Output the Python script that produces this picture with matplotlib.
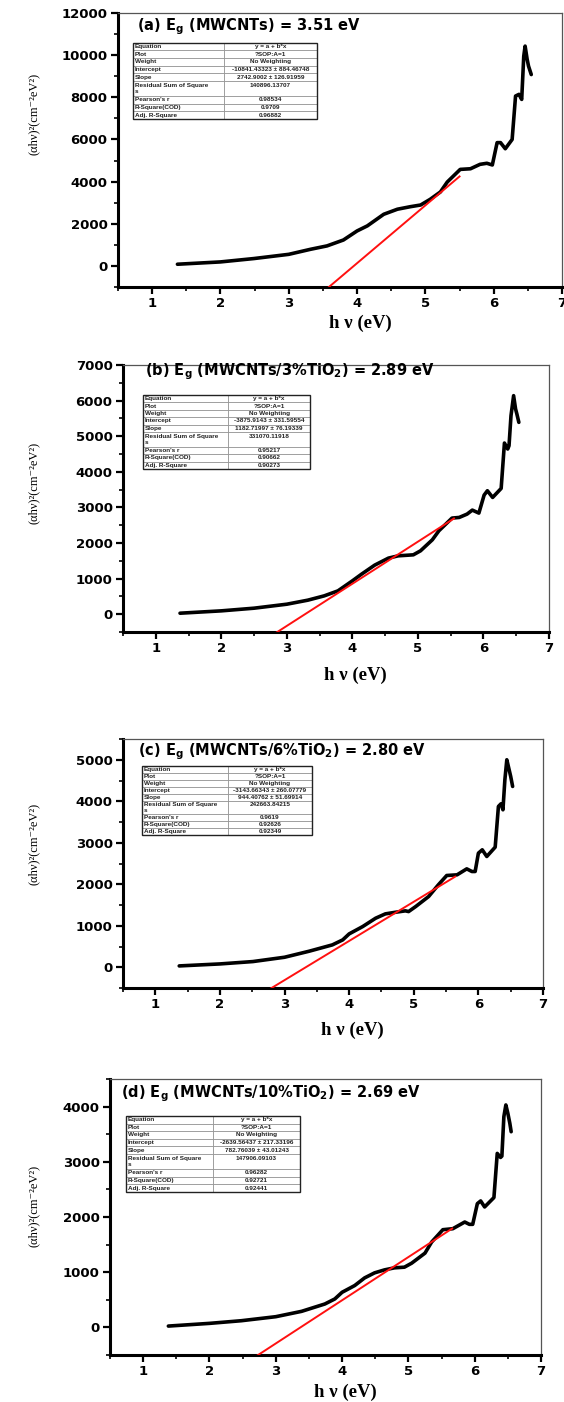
import matplotlib.pyplot as plt
from matplotlib.patches import Rectangle
from matplotlib.ticker import MultipleLocator

plt.rcParams['mathtext.fontset'] = 'custom'
plt.rcParams['mathtext.rm'] = 'DejaVu Sans:bold'
plt.rcParams['mathtext.bf'] = 'DejaVu Sans:bold'

# ---- data ----
hv_a = [1.37, 2.0, 2.49, 3.0, 3.32, 3.56, 3.80, 4.0, 4.15, 4.39, 4.59, 4.78, 4.93, 5.07, 5.22,
        5.32, 5.51, 5.66, 5.80, 5.90, 5.98, 6.05, 6.10, 6.17, 6.27, 6.32, 6.37, 6.41, 6.44,
        6.46, 6.49, 6.51, 6.55]
ahv_a = [80, 190, 350, 550, 790, 950, 1230, 1660, 1900, 2450, 2690, 2810, 2890, 3160, 3510,
         3980, 4580, 4610, 4820, 4870, 4790, 5850, 5850, 5560, 6000, 8060, 8140, 7900, 9950,
         10430, 9800, 9480, 9080]

hv_b = [1.37, 2.0, 2.50, 3.0, 3.32, 3.57, 3.78, 4.0, 4.14, 4.34, 4.55, 4.70, 4.86, 4.93, 5.04,
        5.22, 5.32, 5.52, 5.63, 5.75, 5.83, 5.93, 6.01, 6.06, 6.14, 6.27, 6.32, 6.37, 6.39,
        6.42, 6.46, 6.49, 6.51, 6.54]
ahv_b = [28, 94, 169, 281, 394, 515, 656, 937, 1125, 1378, 1575, 1640, 1659, 1668, 1781,
         2090, 2343, 2700, 2718, 2812, 2924, 2840, 3346, 3468, 3280, 3533, 4808, 4640, 4733,
         5576, 6139, 5764, 5623, 5389]

hv_c = [1.37, 2.0, 2.51, 3.0, 3.38, 3.74, 3.90, 4.0, 4.21, 4.41, 4.56, 4.72, 4.87, 4.92, 5.03,
        5.23, 5.38, 5.51, 5.67, 5.82, 5.90, 5.95, 6.0, 6.06, 6.13, 6.26, 6.31, 6.35, 6.38,
        6.41, 6.44, 6.47, 6.50, 6.53]
ahv_c = [32, 80, 137, 241, 386, 539, 659, 804, 981, 1182, 1286, 1326, 1359, 1342, 1463,
         1704, 1986, 2211, 2227, 2371, 2307, 2307, 2749, 2830, 2669, 2894, 3875, 3939, 3794,
         4518, 5000, 4799, 4598, 4357]

hv_d = [1.38, 2.0, 2.48, 3.0, 3.39, 3.74, 3.89, 4.0, 4.19, 4.34, 4.49, 4.64, 4.79, 4.94, 5.05,
        5.25, 5.35, 5.52, 5.67, 5.85, 5.92, 5.97, 6.04, 6.09, 6.15, 6.29, 6.34, 6.39, 6.41,
        6.44, 6.47, 6.50, 6.53, 6.55]
ahv_d = [24, 73, 121, 194, 291, 424, 515, 636, 758, 897, 988, 1042, 1079, 1091, 1164,
         1345, 1545, 1770, 1788, 1909, 1867, 1867, 2242, 2291, 2182, 2352, 3152, 3079, 3103,
         3818, 4030, 3879, 3697, 3545]

fit_intercept = [-10841.43323, -3875.9143, -3143.66343, -2639.56437]
fit_slope = [2742.9002, 1182.71997, 944.40762, 782.76039]
fit_end = [5.50, 5.55, 5.64, 5.66]

titles = [r'(a) E$_{\mathbf{g}}$ (MWCNTs) = 3.51 eV',
          r'(b) E$_{\mathbf{g}}$ (MWCNTs/3%TiO$_{\mathbf{2}}$) = 2.89 eV',
          r'(c) E$_{\mathbf{g}}$ (MWCNTs/6%TiO$_{\mathbf{2}}$) = 2.80 eV',
          r'(d) E$_{\mathbf{g}}$ (MWCNTs/10%TiO$_{\mathbf{2}}$) = 2.69 eV']

row_names = ['Equation', 'Plot', 'Weight', 'Intercept', 'Slope',
             'Residual Sum of Square\ns', "Pearson's r", 'R-Square(COD)', 'Adj. R-Square']
table_values = [
    ['y = a + b*x', '?SOP:A=1', 'No Weighting', '-10841.43323 \u00b1 884.46748',
     '2742.9002 \u00b1 126.91959', '140896.13707', '0.98534', '0.9709', '0.96882'],
    ['y = a + b*x', '?SOP:A=1', 'No Weighting', '-3875.9143 \u00b1 331.59554',
     '1182.71997 \u00b1 76.19339', '331070.11918', '0.95217', '0.90662', '0.90273'],
    ['y = a + b*x', '?SOP:A=1', 'No Weighting', '-3143.66343 \u00b1 260.07779',
     '944.40762 \u00b1 51.69914', '242663.84215', '0.9619', '0.92626', '0.92349'],
    ['y = a + b*x', '?SOP:A=1', 'No Weighting', '-2639.56437 \u00b1 217.33196',
     '782.76039 \u00b1 43.01243', '147906.09103', '0.96282', '0.92721', '0.92441'],
]

ylims = [(-1000, 12000), (-500, 7000), (-500, 5500), (-500, 4500)]
ymajor = [2000, 1000, 1000, 1000]
ytop_tick = [12000, 7000, 5000, 4000]

# ---- layout (pixels: left, right, top, bottom) ----
W, H = 564, 1402
boxes = [(118, 562, 13, 287), (123, 549, 365, 632), (123, 543, 739, 988), (110, 541, 1079, 1355)]
title_pos = [(0.043, 0.949), (0.052, 0.974), (0.036, 0.948), (0.026, 0.946)]
table_box = [(0.034, 0.613, 0.414, 0.278), (0.047, 0.610, 0.392, 0.278),
             (0.045, 0.614, 0.405, 0.277), (0.037, 0.591, 0.404, 0.275)]
col_split = [0.495, 0.51, 0.506, 0.50]
xlabel_off = [36, 43, 42, 37]
ylabel_y = [0.63, 0.56, 0.58, 0.54]

curves = [(hv_a, ahv_a), (hv_b, ahv_b), (hv_c, ahv_c), (hv_d, ahv_d)]

fig = plt.figure(figsize=(W / 100, H / 100), dpi=100)

for i in range(4):
    l, r, t, b = boxes[i]
    ax = fig.add_axes([l / W, 1 - b / H, (r - l) / W, (b - t) / H])
    x, y = curves[i]
    ax.plot(x, y, color='black', lw=2.6, solid_joinstyle='round', solid_capstyle='round', zorder=3)
    fx = [2.5, fit_end[i]]
    fy = [fit_intercept[i] + fit_slope[i] * v for v in fx]
    ax.plot(fx, fy, color='#ff1010', lw=1.4, zorder=4)

    ax.set_xlim(0.5, 7)
    ax.set_ylim(*ylims[i])
    ax.xaxis.set_major_locator(MultipleLocator(1))
    ax.xaxis.set_minor_locator(MultipleLocator(0.5))
    ax.set_yticks(list(range(0, ytop_tick[i] + 1, ymajor[i])))
    ax.yaxis.set_minor_locator(MultipleLocator(ymajor[i] / 2))
    ax.tick_params(which='major', direction='out', length=5, width=1.6, labelsize=9.5, pad=2.5)
    ax.tick_params(which='minor', direction='out', length=3, width=1.2)
    for lab in ax.get_xticklabels() + ax.get_yticklabels():
        lab.set_fontfamily('DejaVu Sans')
        lab.set_fontweight('heavy')
    for s in ['left', 'bottom']:
        ax.spines[s].set_linewidth(2.2)
    for s in ['top', 'right']:
        ax.spines[s].set_linewidth(0.9)
        ax.spines[s].set_color('#555555')

    ax.set_xlabel('h \u03bd (eV)', fontfamily='Liberation Serif', fontweight='bold', fontsize=13.5)
    ax.xaxis.set_label_coords(0.545, -xlabel_off[i] / (b - t), transform=ax.transAxes)
    ax.xaxis.label.set_verticalalignment('center')
    ax.set_ylabel('(\u03b1h\u03bd)\u00b2(cm\u207b\u00b2eV\u00b2)',
                  fontfamily=['Liberation Serif', 'DejaVu Serif'], fontsize=9)
    ax.yaxis.set_label_coords((40 - l) / (r - l), ylabel_y[i], transform=ax.transAxes)

    tx, ty = title_pos[i]
    ax.text(tx, ty, titles[i], transform=ax.transAxes, fontsize=10.5, fontweight='bold',
            fontfamily='DejaVu Sans', va='center', ha='left')

    vals = list(table_values[i])
    vals[5] = vals[5] + '\n '
    cells = [[n, v] for n, v in zip(row_names, vals)]
    tb = ax.table(cellText=cells, colWidths=[col_split[i], 1 - col_split[i]],
                  cellLoc='center', bbox=list(table_box[i]), zorder=5)
    tb.auto_set_font_size(False)
    for (rr, cc), cell in tb.get_celld().items():
        cell.set_edgecolor('#8a8a8a')
        cell.set_linewidth(0.5)
        cell.set_height(2 if rr == 5 else 1)
        cell.PAD = 0.02
        txt = cell.get_text()
        txt.set_fontsize(4.6)
        txt.set_fontweight('bold')
        txt.set_fontfamily('Liberation Sans')
        txt.set_color('#222222')
        if cc == 0:
            cell._loc = 'left'
            txt.set_horizontalalignment('left')
    bx, by, bw, bh = table_box[i]
    ax.add_patch(Rectangle((bx, by), bw, bh, transform=ax.transAxes, fill=False,
                           edgecolor='#222222', lw=1.0, zorder=6))

fig.savefig('out.png', dpi=100)
